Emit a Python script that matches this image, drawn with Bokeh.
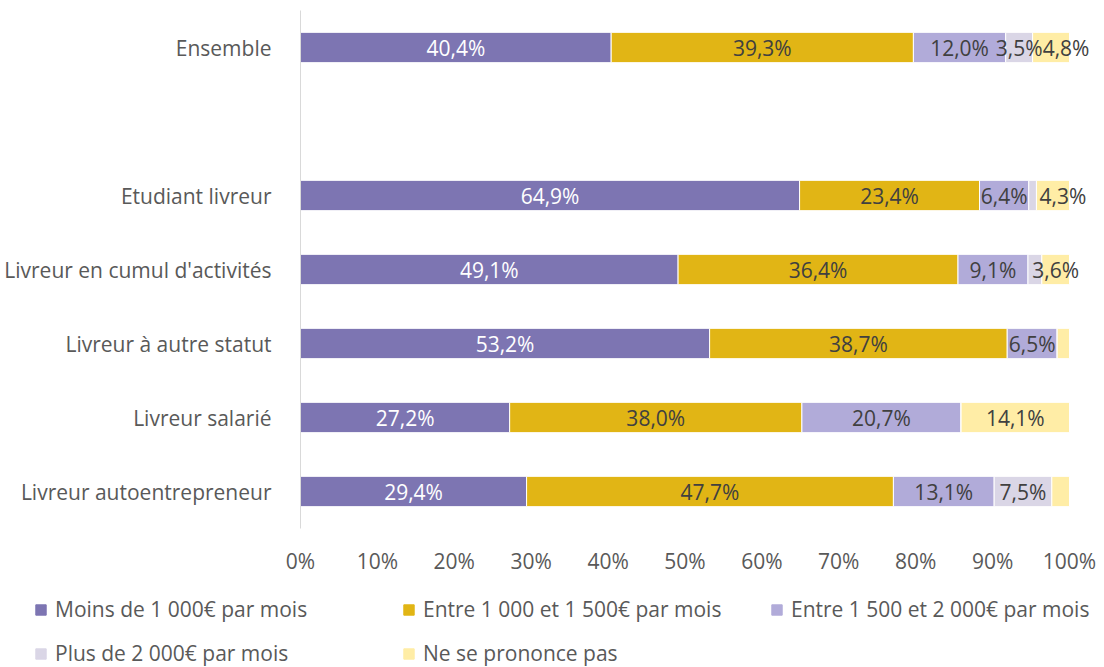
from bokeh.plotting import figure
from bokeh.models import ColumnDataSource, FixedTicker, Legend, LegendItem, PrintfTickFormatter
from bokeh.core.properties import value
from bokeh.embed import file_html
from bokeh.resources import INLINE

categories = ["Ensemble", "Etudiant livreur", "Livreur en cumul d'activités",
              "Livreur à autre statut", "Livreur salarié", "Livreur autoentrepreneur"]
positions = [6, 4, 3, 2, 1, 0]

series_names = ["Moins de 1 000€ par mois", "Entre 1 000 et 1 500€ par mois",
                "Entre 1 500 et 2 000€ par mois", "Plus de 2 000€ par mois",
                "Ne se prononce pas"]
moins_1000 = [40.4, 64.9, 49.1, 53.2, 27.2, 29.4]
entre_1000_1500 = [39.3, 23.4, 36.4, 38.7, 38.0, 47.7]
entre_1500_2000 = [12.0, 6.4, 9.1, 6.5, 20.7, 13.1]
plus_2000 = [3.5, 1.0, 1.8, 0.0, 0.0, 7.5]
ne_se_prononce = [4.8, 4.3, 3.6, 1.6, 14.1, 2.3]

x_ticks = [0, 10, 20, 30, 40, 50, 60, 70, 80, 90, 100]

colors = ["#7D75B2", "#E1B515", "#B1ABD9", "#DAD6E6", "#FFEDA6"]
label_colors = ["#FFFFFF", "#404040", "#404040", "#404040", "#404040"]
keys = ["s0", "s1", "s2", "s3", "s4"]
series = [moins_1000, entre_1000_1500, entre_1500_2000, plus_2000, ne_se_prononce]

FONT = "Open Sans"
FS = "21px"
TXT = "#595959"

# small pixel nudges for crowded labels (row index, series index) -> px
nudges = {(0, 4): 15, (1, 4): 10}

data = {"y": positions}
for k, s in zip(keys, series):
    data[k] = s
src = ColumnDataSource(data)

p = figure(width=1104, height=590, output_backend="svg", toolbar_location=None,
           x_range=(0, 104.55), y_range=(-0.5, 6.5),
           min_border_left=300, min_border_right=0, min_border_top=10,
           min_border_bottom=62)
p.outline_line_color = None
p.grid.visible = False

renderers = p.hbar_stack(keys, y="y", height=0.41, source=src, color=colors,
                         line_color="white", line_width=1)

# labels
lx, ly, lt, lc, lo = [], [], [], [], []
for i, pos in enumerate(positions):
    cum = 0.0
    for j, s in enumerate(series):
        v = s[i]
        if v >= 3.0:
            lx.append(cum + v / 2)
            ly.append(pos)
            lt.append(("%.1f" % v).replace(".", ",") + "%")
            lc.append(label_colors[j])
            lo.append(nudges.get((i, j), 0))
        cum += v
lsrc = ColumnDataSource(dict(x=lx, y=ly, t=lt, c=lc, o=lo))
p.text(x="x", y="y", text="t", text_color="c", x_offset="o", source=lsrc,
       text_align="center", text_baseline="middle", text_font=value(FONT),
       text_font_size=FS)

# axes
p.xaxis.ticker = FixedTicker(ticks=x_ticks)
p.xaxis.formatter = PrintfTickFormatter(format="%d%%")
p.xaxis.axis_line_color = None
p.xaxis.major_tick_line_color = None
p.xaxis.minor_tick_line_color = None
p.xaxis.major_label_standoff = 12
p.xaxis.major_label_text_font = FONT
p.xaxis.major_label_text_font_size = FS
p.xaxis.major_label_text_color = TXT

p.yaxis.ticker = FixedTicker(ticks=positions)
p.yaxis.major_label_overrides = {pos: c for pos, c in zip(positions, categories)}
p.yaxis.axis_line_color = "#D9D9D9"
p.yaxis.major_tick_line_color = None
p.yaxis.minor_tick_line_color = None
p.yaxis.major_label_standoff = 23
p.yaxis.major_label_text_font = FONT
p.yaxis.major_label_text_font_size = FS
p.yaxis.major_label_text_color = TXT

# legend panel (separate root, series glyphs kept outside its visible range)
pl = figure(width=1104, height=77, output_backend="svg", toolbar_location=None,
            x_range=(0, 1), y_range=(100, 101), x_axis_type=None, y_axis_type=None,
            min_border=0)
pl.outline_line_color = None
pl.grid.visible = False
leg_renderers = pl.hbar_stack(keys, y="y", height=0.41, source=src, color=colors)
order = [0, 3, 1, 4, 2]  # column-major fill -> row-major look
items = [LegendItem(label=series_names[k], renderers=[leg_renderers[k]]) for k in order]
legend = Legend(items=items, ncols=3, location=(34, 0),
                glyph_width=13, glyph_height=13, label_standoff=8,
                label_height=20, label_width=331, spacing=16, padding=0, margin=0,
                border_line_color=None, background_fill_alpha=0,
                label_text_font=FONT, label_text_font_size=FS,
                label_text_color=TXT)
pl.add_layout(legend, "center")

open("out.html", "w").write(file_html([p, pl], INLINE))
